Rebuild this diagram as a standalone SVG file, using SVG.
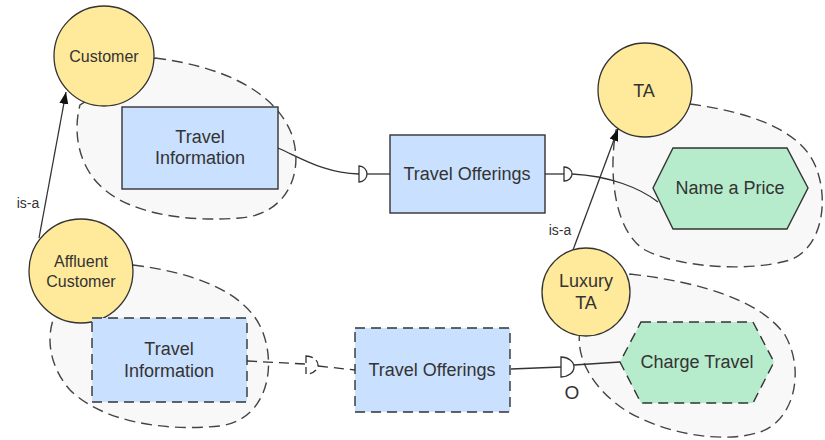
<svg xmlns="http://www.w3.org/2000/svg" width="825" height="440" viewBox="0 0 825 440">
<defs>
<style>
.zone{fill:#f8f8f8;stroke:#444;stroke-width:1.4;stroke-dasharray:11 6}
.role{fill:#ffe99a;stroke:#333;stroke-width:1.3}
.box{fill:#c9e0ff;stroke:#333;stroke-width:1.4}
.hex{fill:#b6ebcb;stroke:#333;stroke-width:1.4}
.dash{stroke-dasharray:10 6}
.t{font-family:"Liberation Sans",Arial,sans-serif;fill:#333;text-anchor:middle}
.big{font-size:18px}
.mid{font-size:16px}
.sm{font-size:14px}
.ln{fill:none;stroke:#333;stroke-width:1.3}
.cup{fill:#fff;stroke:#333;stroke-width:1.3}
</style>
<marker id="arr" markerUnits="userSpaceOnUse" markerWidth="13" markerHeight="10" refX="12" refY="4.5" orient="auto">
<path d="M0,0 L12,4.5 L0,9 Z" fill="#111"/>
</marker>
</defs>
<rect width="825" height="440" fill="#fff"/>

<g id="zone-customer"><path class="zone" d="M155,58 C220,66 275,90 292,135 C305,175 285,215 240,218 C190,222 135,215 105,190 C80,170 72,135 80,105 Z"/></g>
<g id="zone-ta"><path class="zone" d="M690,104 C750,112 800,130 815,165 C830,200 822,248 790,260 C750,272 680,268 645,250 C615,232 608,175 616,130 Z"/></g>
<g id="zone-affluent"><path class="zone" d="M133,265 C190,272 245,290 262,330 C278,370 265,420 220,426 C160,432 100,420 70,390 C48,365 46,335 55,315 Z"/></g>
<g id="zone-luxury"><path class="zone" d="M630,274 C700,282 760,300 785,335 C805,370 795,420 760,432 C720,445 660,432 625,410 C595,390 575,360 580,330 Z"/></g>

<g id="connectors">
<path class="ln" d="M39,238 L66,92" marker-end="url(#arr)"/>
<text class="t sm" x="28" y="208">is-a</text>
<path class="ln" d="M573,250 L618,129" marker-end="url(#arr)"/>
<text class="t sm" x="560" y="235">is-a</text>
<path class="ln" d="M278,148 C305,160 325,173 359,174"/>
<path class="cup" d="M359,166 A8,8 0 0 1 359,182 Z"/>
<path class="ln" d="M367,174 L390,174"/>
<path class="ln" d="M545,174 L564,174"/>
<path class="cup" d="M564,167 A8,7 0 0 1 564,181 Z"/>
<path class="ln" d="M572,174 C610,176 640,188 658,202"/>
<path class="ln dash" d="M247,361 L305,364"/>
<path class="cup" stroke-dasharray="7 4" d="M306,356 A12,9 0 0 1 306,374 Z"/>
<path class="ln dash" d="M318,366 L355,370"/>
<path class="ln" d="M511,369 L561,367"/>
<path class="cup" d="M561,357 A13,10 0 0 1 561,377 Z"/>
<path class="ln" d="M574,365 L620,362"/>
<text class="t" style="font-size:19px" x="572" y="399">O</text>
</g>

<g id="customer"><circle class="role" cx="104" cy="56" r="50"/><text class="t mid" x="104" y="62">Customer</text></g>
<g id="travel-information-1"><rect class="box" x="122" y="107" width="156" height="82"/><text class="t big" x="200" y="143">Travel</text><text class="t big" x="200" y="164">Information</text></g>
<g id="travel-offerings-1"><rect class="box" x="390" y="135" width="155" height="78"/><text class="t big" x="467" y="180">Travel Offerings</text></g>
<g id="ta"><circle class="role" cx="645" cy="90" r="47"/><text class="t big" x="644" y="97">TA</text></g>
<g id="name-a-price"><polygon class="hex" points="673,148 787,148 808,188 787,229 673,229 653,188"/><text class="t big" x="730" y="194">Name a Price</text></g>
<g id="affluent-customer"><circle class="role" cx="81" cy="271" r="52"/><text class="t mid" x="81" y="267">Affluent</text><text class="t mid" x="81" y="287">Customer</text></g>
<g id="travel-information-2"><rect class="box dash" x="92" y="318" width="155" height="84"/><text class="t big" x="169" y="355">Travel</text><text class="t big" x="169" y="377">Information</text></g>
<g id="travel-offerings-2"><rect class="box dash" x="355" y="328" width="155" height="84"/><text class="t big" x="432" y="376">Travel Offerings</text></g>
<g id="luxury-ta"><circle class="role" cx="586" cy="292" r="44"/><text class="t big" x="586" y="287">Luxury</text><text class="t big" x="586" y="309">TA</text></g>
<g id="charge-travel"><polygon class="hex dash" points="641,322 753,322 774,362 753,403 641,403 620,362"/><text class="t big" x="697" y="368">Charge Travel</text></g>
</svg>
